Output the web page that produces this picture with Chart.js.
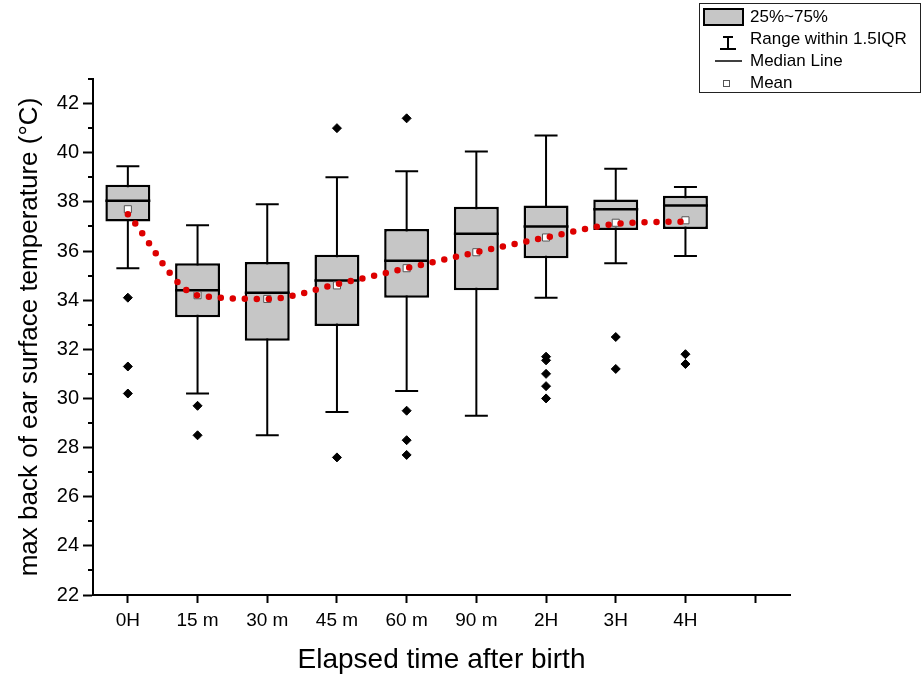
<!DOCTYPE html>
<html>
<head>
<meta charset="utf-8">
<script src="https://cdn.jsdelivr.net/npm/chart.js@4"></script>
<style>
  body { margin: 0; background: #fff; }
  #wrap { width: 922px; height: 677px; }
</style>
</head>
<body>
<div id="wrap"><canvas id="boxChart" width="922" height="677"></canvas></div>
<script>
// last category is an empty slot, the x axis in the original has one spare tick
const categories = ['0H', '15 m', '30 m', '45 m', '60 m', '90 m', '2H', '3H', '4H', ''];

const whiskerLow  = [35.3, 30.2, 28.5, 29.45, 30.3, 29.3, 34.1, 35.5, 35.8];
const q1          = [37.2, 33.3, 32.35, 32.95, 34.1, 34.4, 35.7, 36.85, 36.9];
const median      = [38.05, 34.4, 34.3, 34.8, 35.6, 36.7, 37.0, 37.7, 37.85];
const q3          = [38.7, 35.5, 35.55, 35.85, 36.9, 37.8, 37.85, 38.1, 38.25];
const whiskerHigh = [39.45, 37.05, 37.9, 39.0, 39.25, 40.05, 40.7, 39.35, 38.6];
const means       = [37.7, 34.2, 34.05, 34.6, 35.3, 35.95, 36.55, 37.15, 37.25];
const trend       = [37.5, 34.2, 34.05, 34.65, 35.3, 35.95, 36.55, 37.1, 37.2];
const outliers = [
    [34.1, 31.3, 30.2],
    [29.7, 28.5],
    [],
    [41.0, 27.6],
    [41.4, 29.5, 28.3, 27.7],
    [],
    [31.7, 31.55, 31.0, 30.5, 30.0],
    [32.5, 31.2],
    [31.8, 31.4]
];

const yMin = 22;
const yMax = 43;

const FONT = "'Liberation Sans', Arial, sans-serif";
const BOX_GREY = '#c6c6c6';

Chart.defaults.font.family = FONT;
Chart.defaults.color = '#000';

const boxExtras = {
    id: 'boxExtras',
    beforeDatasetsDraw(chart) {
        // whiskers with caps, drawn under the boxes
        const ctx = chart.ctx;
        const x = chart.scales.x, y = chart.scales.y;
        ctx.save();
        ctx.strokeStyle = '#000';
        ctx.lineWidth = 2;
        for (let i = 0; i < whiskerLow.length; i++) {
            const px = x.getPixelForValue(i);
            const lo = y.getPixelForValue(whiskerLow[i]);
            const hi = y.getPixelForValue(whiskerHigh[i]);
            ctx.beginPath();
            ctx.moveTo(px, lo); ctx.lineTo(px, hi);
            ctx.moveTo(px - 11.5, lo); ctx.lineTo(px + 11.5, lo);
            ctx.moveTo(px - 11.5, hi); ctx.lineTo(px + 11.5, hi);
            ctx.stroke();
        }
        ctx.restore();
    },
    afterDatasetDraw(chart, args) {
        if (args.index !== 0) return;
        // median line across each box
        const ctx = chart.ctx;
        const y = chart.scales.y;
        const bars = chart.getDatasetMeta(0).data;
        ctx.save();
        ctx.strokeStyle = '#000';
        ctx.lineWidth = 2.5;
        for (let i = 0; i < median.length; i++) {
            const bar = bars[i];
            const py = y.getPixelForValue(median[i]);
            ctx.beginPath();
            ctx.moveTo(bar.x - bar.width / 2, py);
            ctx.lineTo(bar.x + bar.width / 2, py);
            ctx.stroke();
        }
        ctx.restore();
    },
    afterDraw(chart) {
        const ctx = chart.ctx;
        const y = chart.scales.y;
        const left = chart.chartArea.left;
        ctx.save();

        // minor ticks on the y axis
        ctx.strokeStyle = '#000';
        ctx.lineWidth = 2;
        for (let v = yMin + 1; v <= yMax; v += 2) {
            const py = Math.round(y.getPixelForValue(v));
            ctx.beginPath();
            ctx.moveTo(left - 5, py);
            ctx.lineTo(left, py);
            ctx.stroke();
        }

        // legend box (top right)
        ctx.lineWidth = 1;
        ctx.strokeStyle = '#222';
        ctx.strokeRect(699.5, 3.5, 221, 89);

        ctx.fillStyle = BOX_GREY;
        ctx.fillRect(704, 9, 39, 16);
        ctx.lineWidth = 2;
        ctx.strokeStyle = '#000';
        ctx.strokeRect(704, 9, 39, 16);

        ctx.beginPath();
        ctx.moveTo(728, 37); ctx.lineTo(728, 49);
        ctx.moveTo(723, 37); ctx.lineTo(733, 37);
        ctx.moveTo(720, 49); ctx.lineTo(736, 49);
        ctx.stroke();

        ctx.lineWidth = 1.5;
        ctx.beginPath();
        ctx.moveTo(715, 61); ctx.lineTo(742, 61);
        ctx.stroke();

        ctx.lineWidth = 1;
        ctx.strokeStyle = '#555';
        ctx.fillStyle = '#fff';
        ctx.fillRect(723.5, 80.5, 6, 6);
        ctx.strokeRect(723.5, 80.5, 6, 6);

        ctx.fillStyle = '#000';
        ctx.font = '17px ' + FONT;
        ctx.textBaseline = 'middle';
        ctx.fillText('25%~75%', 750, 17);
        ctx.fillText('Range within 1.5IQR', 750, 39);
        ctx.fillText('Median Line', 750, 61);
        ctx.fillText('Mean', 750, 83);

        ctx.restore();
    }
};

const outlierPoints = outliers.flatMap((list, i) =>
    list.map(v => ({ x: categories[i], y: v }))
);

const ctx = document.getElementById('boxChart').getContext('2d');

new Chart(ctx, {
    type: 'bar',
    data: {
        labels: categories,
        datasets: [
            {
                label: '25%~75%',
                data: q1.map((v, i) => [v, q3[i]]),
                backgroundColor: BOX_GREY,
                borderColor: '#000',
                borderWidth: 2.5,
                borderSkipped: false,
                barPercentage: 0.645,
                categoryPercentage: 1,
                order: 4
            },
            {
                type: 'line',
                label: 'Mean',
                data: means,
                showLine: false,
                pointStyle: 'rect',
                pointRadius: 5,
                pointBackgroundColor: '#fff',
                pointBorderColor: '#555',
                pointBorderWidth: 1,
                order: 3
            },
            {
                type: 'line',
                label: 'trend',
                data: trend,
                borderColor: '#dd0000',
                borderWidth: 6.5,
                borderDash: [0, 12],
                borderCapStyle: 'round',
                cubicInterpolationMode: 'monotone',
                pointRadius: 0,
                fill: false,
                order: 2
            },
            {
                type: 'line',
                label: 'outliers',
                data: outlierPoints,
                showLine: false,
                pointStyle: 'rectRot',
                pointRadius: 4.5,
                pointBackgroundColor: '#000',
                pointBorderColor: '#000',
                pointBorderWidth: 1,
                order: 1
            }
        ]
    },
    options: {
        responsive: false,
        animation: false,
        layout: {
            padding: { left: 0, top: 79, right: 132, bottom: 0 }
        },
        plugins: {
            legend: { display: false },
            tooltip: { enabled: false }
        },
        scales: {
            x: {
                offset: true,
                grid: {
                    offset: false,
                    drawOnChartArea: false,
                    tickLength: 8,
                    tickWidth: 2,
                    tickColor: '#000'
                },
                border: { color: '#000', width: 2 },
                ticks: {
                    padding: 6,
                    maxRotation: 0,
                    autoSkip: false,
                    font: { size: 19 }
                },
                title: {
                    display: true,
                    text: 'Elapsed time after birth',
                    font: { size: 28 },
                    padding: { top: 0, bottom: 0 }
                },
                afterFit(scale) { scale.height = 82; }
            },
            y: {
                min: yMin,
                max: yMax,
                grid: {
                    drawOnChartArea: false,
                    tickLength: 10,
                    tickWidth: 2,
                    tickColor: '#000'
                },
                border: { color: '#000', width: 2 },
                ticks: {
                    stepSize: 2,
                    padding: 4,
                    font: { size: 20 }
                },
                afterBuildTicks(scale) {
                    scale.ticks = scale.ticks.filter(t => t.value % 2 === 0);
                },
                title: {
                    display: true,
                    text: 'max back of ear surface temperature (°C)',
                    font: { size: 26 },
                    padding: { top: 14, bottom: 0 }
                },
                afterFit(scale) { scale.width = 93; }
            }
        }
    },
    plugins: [boxExtras]
});
</script>
</body>
</html>
